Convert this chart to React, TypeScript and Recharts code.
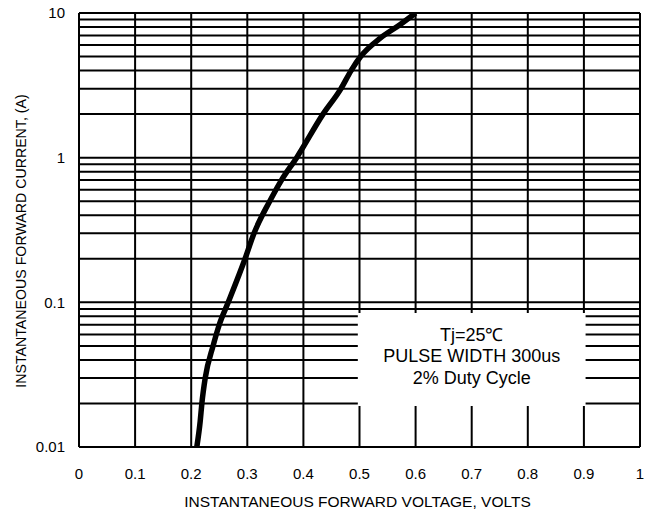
import { LineChart, Line, XAxis, YAxis, CartesianGrid, ReferenceArea, Label } from "recharts";

// forward voltage (V) vs instantaneous forward current (A)
const voltage = [0.21, 0.216, 0.219, 0.225, 0.239, 0.25, 0.266, 0.296, 0.312, 0.34, 0.361, 0.388, 0.435, 0.467, 0.485, 0.502, 0.537, 0.572, 0.6];
const current = [0.01, 0.015, 0.02, 0.03, 0.05, 0.07, 0.1, 0.2, 0.3, 0.5, 0.7, 1, 2, 3, 4, 5, 6.7, 8.3, 10];

const xTicks = [0, 0.1, 0.2, 0.3, 0.4, 0.5, 0.6, 0.7, 0.8, 0.9, 1];
const yTicks = [
  0.01, 0.02, 0.03, 0.04, 0.05, 0.06, 0.07, 0.08, 0.09,
  0.1, 0.2, 0.3, 0.4, 0.5, 0.6, 0.7, 0.8, 0.9,
  1, 2, 3, 4, 5, 6, 7, 8, 9, 10,
];
const yLabelTicks = [0.01, 0.1, 1, 10];

// note box corners (data units)
const boxV = [0.497, 0.903];
const boxI = [0.0192, 0.0845];
const noteLines = ["Tj=25\u2103", "PULSE WIDTH 300us", "2% Duty Cycle"];

const data = voltage.map((v, idx) => ({ v, i: current[idx] }));

const FONT = "'Liberation Sans', Arial, sans-serif";

export default function App() {
  return (
    <div style={{ position: "absolute", left: 0, top: 0, background: "#fff" }}>
      <LineChart width={651} height={513} data={data} margin={{ top: 13, right: 11, bottom: 0, left: 0 }}>
        <CartesianGrid stroke="#000" strokeWidth={2} />
        <XAxis
          dataKey="v"
          type="number"
          domain={[0, 1]}
          ticks={xTicks}
          height={66}
          tickLine={false}
          axisLine={{ stroke: "#000", strokeWidth: 2 }}
          tickSize={0}
          tickMargin={21}
          tick={{ fill: "#000", fontSize: 15, fontFamily: FONT }}
        >
          <Label
            content={({ viewBox }: any) => (
              <text
                x={viewBox.x + viewBox.width / 2 - 2}
                y={viewBox.y + viewBox.height - 6}
                textAnchor="middle"
                fontSize={15.5}
                fontFamily={FONT}
                fill="#000"
              >
                INSTANTANEOUS FORWARD VOLTAGE, VOLTS
              </text>
            )}
          />
        </XAxis>
        <YAxis
          type="number"
          scale="log"
          domain={[0.01, 10]}
          allowDataOverflow
          ticks={yTicks}
          interval={0}
          width={79}
          tickLine={false}
          axisLine={{ stroke: "#000", strokeWidth: 2 }}
          tickSize={0}
          tickMargin={14}
          tickFormatter={(val: number) => (yLabelTicks.includes(val) ? String(val) : "")}
          tick={{ fill: "#000", fontSize: 15, fontFamily: FONT }}
        >
          <Label
            content={() => (
              <text
                x={21}
                y={241}
                transform="rotate(-90, 21, 241)"
                textAnchor="middle"
                dominantBaseline="central"
                fontSize={14.2}
                fontFamily={FONT}
                fill="#000"
              >
                INSTANTANEOUS FORWARD CURRENT, (A)
              </text>
            )}
          />
        </YAxis>
        <ReferenceArea
          x1={boxV[0]}
          x2={boxV[1]}
          y1={boxI[0]}
          y2={boxI[1]}
          fill="#fff"
          fillOpacity={1}
          stroke="none"
        >
          <Label
            content={({ viewBox }: any) => (
              <g>
                {noteLines.map((t, k) => (
                  <text
                    key={k}
                    x={viewBox.x + viewBox.width / 2}
                    y={viewBox.y + 22 + k * 21.5}
                    textAnchor="middle"
                    dominantBaseline="central"
                    fontSize={18}
                    fontFamily={FONT}
                    fill="#000"
                  >
                    {t}
                  </text>
                ))}
              </g>
            )}
          />
        </ReferenceArea>
        <Line
          dataKey="i"
          type="monotone"
          stroke="#000"
          strokeWidth={5.5}
          dot={false}
          isAnimationActive={false}
        />
      </LineChart>
    </div>
  );
}
